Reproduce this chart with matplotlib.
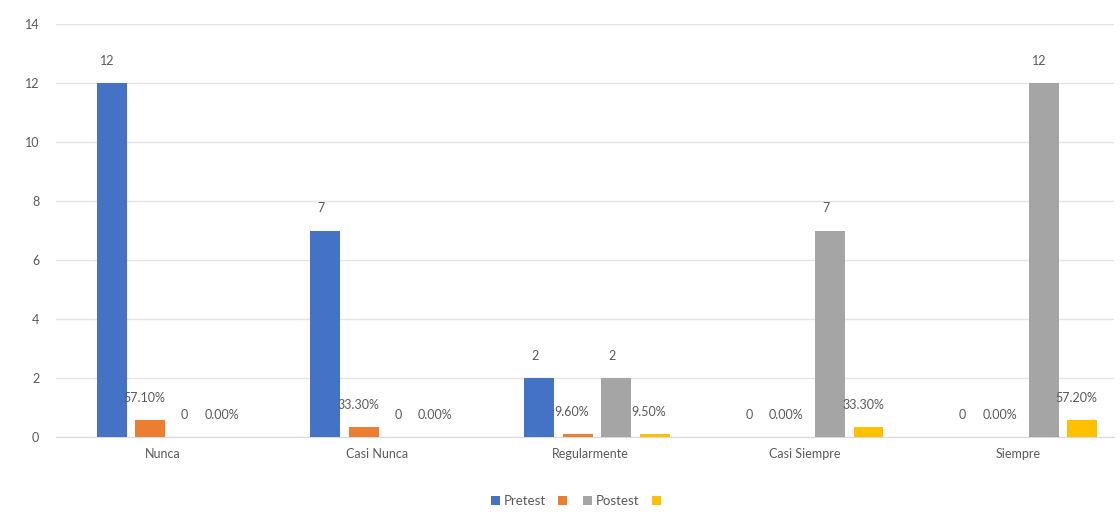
import numpy as np
import matplotlib.pyplot as plt

categorias = ['Nunca', 'Casi Nunca', 'Regularmente', 'Casi Siempre', 'Siempre']
pretest = [12, 7, 2, 0, 0]
pretest_pct = [0.571, 0.333, 0.096, 0.0, 0.0]
postest = [0, 0, 2, 7, 12]
postest_pct = [0.0, 0.0, 0.095, 0.333, 0.572]
leyenda = ['Pretest', '', 'Postest', '']

colores = ['#4472C4', '#ED7D31', '#A5A5A5', '#FFC000']
gris = '#595959'

plt.rcParams['font.family'] = ['Lato', 'DejaVu Sans']

fig = plt.figure(figsize=(11.2, 5.16), dpi=100)
ax = fig.add_axes([0.05, 0.153, 0.945, 0.8])

x = np.arange(len(categorias))
paso = 0.18
ancho = 0.14
series = [pretest, pretest_pct, postest, postest_pct]
barras = []
for i, (vals, col) in enumerate(zip(series, colores)):
    pos = x + (i - 1.5) * paso + 0.03
    b = ax.bar(pos, vals, width=ancho, color=col, zorder=3)
    barras.append(b)
    for xp, v in zip(pos, vals):
        txt = f'{v * 100:.2f}%' if i % 2 == 1 else f'{v:g}'
        dx = -4 if i % 2 == 1 else -3
        ax.annotate(txt, (xp, v), xytext=(dx, 16), textcoords='offset points',
                    ha='center', va='center', fontsize=9, color=gris)

ax.set_xlim(-0.5, 4.45)
ax.set_ylim(0, 14)
ax.set_yticks(range(0, 15, 2))
ax.set_xticks(x)
ax.set_xticklabels(categorias)
ax.tick_params(axis='both', length=0, labelsize=9, colors=gris, pad=8)
ax.tick_params(axis='y', pad=12)
ax.grid(axis='y', color='#E5E5E5', linewidth=1, zorder=0)
for s in ['top', 'right', 'left']:
    ax.spines[s].set_visible(False)
ax.spines['bottom'].set_color('#D9D9D9')

ax.legend(barras, leyenda, loc='center', bbox_to_anchor=(0.493, -0.155),
          ncol=4, frameon=False, fontsize=9.5, labelcolor=gris,
          handlelength=0.7, handleheight=0.7, handletextpad=0.3, columnspacing=0.9)

fig.savefig('out.png', dpi=100)
